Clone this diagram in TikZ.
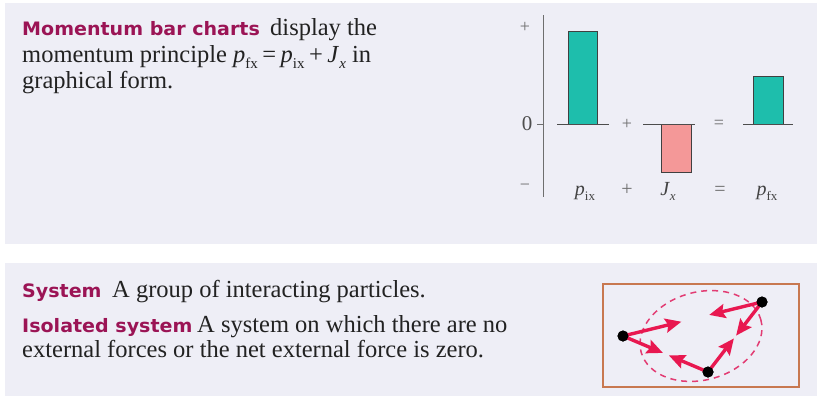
\documentclass[tikz,border=0pt]{standalone}
\usepackage{fontspec}
\setmainfont{Liberation Serif}
\newfontfamily\hdfont[FakeStretch=1.03]{DejaVu Sans}
\usetikzlibrary{shapes.geometric,arrows.meta,calc}
\definecolor{panel}{RGB}{238,238,246}
\definecolor{headc}{RGB}{155,20,85}
\definecolor{tealbar}{RGB}{30,190,172}
\definecolor{pinkbar}{RGB}{244,152,152}
\definecolor{boxc}{RGB}{200,120,80}
\definecolor{forcec}{RGB}{232,24,80}
\definecolor{ellc}{RGB}{226,60,115}
\definecolor{txt}{RGB}{34,34,34}
\definecolor{axc}{RGB}{110,110,110}
\newcommand\hd[1]{{\hdfont\bfseries\fontsize{18.5}{18.5}\selectfont\color{headc}#1}}
\newcommand\ssub[1]{\raisebox{-0.25em}{\fontsize{15}{15}\selectfont #1}}
\newcommand\lsub[1]{\raisebox{-0.25em}{\fontsize{13}{13}\selectfont #1}}
\newcommand\opsp{\hspace{4.5pt}}
\tikzset{
  body/.style={anchor=base west, inner sep=0pt, text=txt, font=\fontsize{24.5}{26}\selectfont},
  head/.style={anchor=base west, inner sep=0pt},
  lab/.style={anchor=base, inner sep=0pt, text=txt!85, font=\fontsize{20}{20}\selectfont},
  op/.style={inner sep=0pt, text=axc, font=\fontsize{18}{18}\selectfont},
  bar/.style={draw=black!75, line width=0.8pt},
  base/.style={draw=black!70, line width=0.9pt},
  dot/.style={circle, fill=black, inner sep=0pt, minimum size=11pt},
  farrow/.style={draw=forcec, line width=3.4pt, -{Stealth[length=16pt,width=14pt,inset=2.5pt]}},
}
\begin{document}
\begin{tikzpicture}[x=1pt,y=-1pt]
\useasboundingbox (0,0) rectangle (817,397);
\fill[white] (0,0) rectangle (817,397);
% panels
\fill[panel] (5,3) rectangle (817,244);
\fill[panel] (5,263) rectangle (817,396);
% top text
\node[head] (h1) at (22,35) {\hd{Momentum bar charts}};
\node[body] (t1) at (270,35) {display the};
\node[body] (t2) at (22,62) {momentum principle \textit{p}\ssub{fx}\opsp=\opsp\textit{p}\ssub{ix}\opsp+\opsp\textit{J}\ssub{\textit{x}} in};
\node[body] (t3) at (22,88) {graphical form.};
% bar chart
\draw[axc, line width=0.8pt] (543,15) -- (543,197);
\draw[axc, line width=0.8pt] (537,124) -- (543,124);
\node[op] (plus) at (525,27) {+};
\node[op, text=txt!80, font=\fontsize{21}{21}\selectfont] (zero) at (527,124) {0};
\node[op] (minus) at (525,187) {\textminus};
\draw[bar, fill=tealbar] (568,31) rectangle (597,124);
\draw[bar, fill=pinkbar] (661,124) rectangle (691,172);
\draw[bar, fill=tealbar] (753,76) rectangle (783,124);
\draw[base] (557,124) -- (609,124);
\draw[base] (643,124) -- (695,124);
\draw[base] (743,124) -- (793,124);
\node[op] (op1) at (627,124) {+};
\node[op] (op2) at (719,124) {=};
\node[lab] (l1) at (585,195) {\textit{p}\lsub{ix}};
\node[lab, text=axc] (l2) at (627,195) {+};
\node[lab] (l3) at (668,195) {\textit{J}\lsub{\textit{x}}};
\node[lab, text=axc] (l4) at (720,195) {=};
\node[lab] (l5) at (767,195) {\textit{p}\lsub{fx}};
% bottom text
\node[head] (h2) at (22,297) {\hd{System}};
\node[body] (s1) at (112,297) {A group of interacting particles.};
\node[head] (h3) at (22,332) {\hd{Isolated system}};
\node[body] (s2) at (197,332) {A system on which there are no};
\node[body] (s3) at (22,357) {external forces or the net external force is zero.};
% system box
\draw[boxc, line width=1.5pt, fill=panel] (603,284) rectangle (799,387);
\node[draw=ellc, dashed, dash pattern=on 6pt off 5pt, line width=1.5pt, ellipse, minimum width=124pt, minimum height=88pt, rotate=15] (ell) at (701,336) {};
\node[dot] (A) at (623,336) {};
\node[dot] (B) at (762,302) {};
\node[dot] (C) at (708,372) {};
\draw[farrow] (A.center) -- ($(A)!0.42!(B)$);
\draw[farrow] (A.center) -- ($(A)!0.47!(C)$);
\draw[farrow] (C.center) -- ($(C)!0.46!(A)$);
\draw[farrow] (C.center) -- ($(C)!0.48!(B)$);
\draw[farrow] (B.center) -- ($(B)!0.38!(A)$);
\draw[farrow] (B.center) -- ($(B)!0.48!(C)$);
\node[dot] at (A) {};
\node[dot] at (B) {};
\node[dot] at (C) {};
\end{tikzpicture}
\end{document}
